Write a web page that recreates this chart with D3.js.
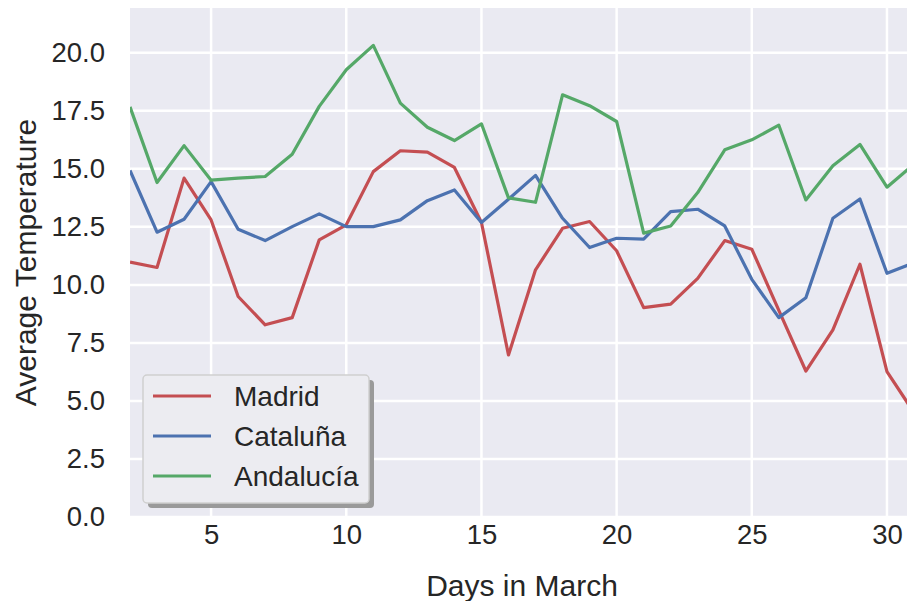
<!DOCTYPE html>
<html>
<head>
<meta charset="utf-8">
<script src="https://cdn.jsdelivr.net/npm/d3@7"></script>
<style>
  body { margin: 0; background: #fff; }
  text { font-family: "Liberation Sans", Arial, sans-serif; fill: #262626; }
</style>
</head>
<body>
<div id="chart"></div>
<script>
var days = d3.range(2, 32);

var madrid = [10.98, 10.75, 14.6, 12.8, 9.5, 8.28, 8.59, 11.94, 12.59, 14.88,
    15.78, 15.72, 15.06, 12.69, 6.98, 10.65, 12.44, 12.73, 11.47, 9.02,
    9.17, 10.28, 11.91, 11.54, 8.9, 6.29, 8.06, 10.89, 6.26, 4.5];
var cataluna = [14.93, 12.27, 12.83, 14.45, 12.4, 11.91, 12.51, 13.06, 12.51, 12.51,
    12.8, 13.63, 14.09, 12.69, 13.69, 14.72, 12.87, 11.61, 12.01, 11.97,
    13.16, 13.26, 12.54, 10.24, 8.59, 9.45, 12.87, 13.7, 10.5, 10.95];
var andalucia = [17.67, 14.41, 16.0, 14.51, 14.6, 14.67, 15.63, 17.69, 19.27, 20.32,
    17.83, 16.79, 16.22, 16.94, 13.75, 13.56, 18.19, 17.72, 17.04, 12.23,
    12.54, 13.98, 15.82, 16.25, 16.88, 13.66, 15.13, 16.05, 14.21, 15.2];

var seriesNames = ["Madrid", "Cataluña", "Andalucía"];
var seriesColors = ["#c44e52", "#4c72b0", "#55a868"];
var xTicks = [5, 10, 15, 20, 25, 30];
var yTicks = [0, 2.5, 5, 7.5, 10, 12.5, 15, 17.5, 20];

var W = 907, H = 601;
var margin = {top: 8, right: -7, bottom: 84, left: 130};
var width = W - margin.left - margin.right,
    height = H - margin.top - margin.bottom;

var svg = d3.select("#chart")
    .append("svg")
    .attr("width", W)
    .attr("height", H);

var g = svg.append("g")
    .attr("transform", "translate(" + margin.left + "," + margin.top + ")");

var x = d3.scaleLinear().domain([2, 31]).range([0, width]);
var y = d3.scaleLinear().domain([0, 21.93]).range([height, 0]);

g.append("rect")
    .attr("width", width)
    .attr("height", height)
    .attr("fill", "#eaeaf2");

// grid
g.selectAll(".vgrid")
    .data(xTicks)
    .enter().append("line")
    .attr("x1", function(d) { return x(d); })
    .attr("x2", function(d) { return x(d); })
    .attr("y1", 0).attr("y2", height)
    .attr("stroke", "#fff").attr("stroke-width", 2.5);

g.selectAll(".hgrid")
    .data(yTicks)
    .enter().append("line")
    .attr("x1", 0).attr("x2", width)
    .attr("y1", function(d) { return y(d); })
    .attr("y2", function(d) { return y(d); })
    .attr("stroke", "#fff").attr("stroke-width", 2.5);

// axes (labels only, no domain/ticks)
var xAxis = g.append("g")
    .attr("transform", "translate(0," + height + ")")
    .call(d3.axisBottom(x).tickValues(xTicks).tickSize(0).tickPadding(27).tickFormat(d3.format("d")));
var yAxis = g.append("g")
    .call(d3.axisLeft(y).tickValues(yTicks).tickSize(0).tickPadding(25).tickFormat(d3.format(".1f")));

[xAxis, yAxis].forEach(function(a) {
    a.select(".domain").remove();
    a.selectAll("text")
        .attr("fill", "#262626")
        .style("font-size", "27.5px")
        .style("font-family", "Liberation Sans, Arial, sans-serif");
});
xAxis.selectAll("text").attr("dy", 0);

// lines
g.append("clipPath").attr("id", "plotclip")
    .append("rect").attr("width", width).attr("height", height);

var line = d3.line()
    .x(function(d, i) { return x(days[i]); })
    .y(function(d) { return y(d); });

var allSeries = [madrid, cataluna, andalucia];

g.selectAll(".series")
    .data(allSeries)
    .enter().append("path")
    .attr("clip-path", "url(#plotclip)")
    .attr("d", line)
    .attr("fill", "none")
    .attr("stroke", function(d, i) { return seriesColors[i]; })
    .attr("stroke-width", 3.2)
    .attr("stroke-linejoin", "round");

// axis titles
svg.append("text")
    .attr("x", margin.left + width / 2)
    .attr("y", 596)
    .attr("text-anchor", "middle")
    .style("font-size", "30px")
    .text("Days in March");

svg.append("text")
    .attr("transform", "translate(36," + (margin.top + height / 2) + ") rotate(-90)")
    .attr("text-anchor", "middle")
    .style("font-size", "30px")
    .text("Average Temperature");

// legend
var lg = svg.append("g").attr("transform", "translate(143,375)");
lg.append("rect")
    .attr("x", 5).attr("y", 5)
    .attr("width", 226).attr("height", 128)
    .attr("rx", 4)
    .attr("fill", "#9a9a9a");
lg.append("rect")
    .attr("width", 226).attr("height", 128)
    .attr("rx", 4)
    .attr("fill", "#ececf1")
    .attr("stroke", "#cfcfcf")
    .attr("stroke-width", 1.5);

var items = lg.selectAll(".legends")
    .data(seriesNames)
    .enter().append("g")
    .attr("transform", function(d, i) { return "translate(0," + (21 + i * 40) + ")"; });

items.append("line")
    .attr("x1", 10).attr("x2", 68)
    .attr("stroke", function(d, i) { return seriesColors[i]; })
    .attr("stroke-width", 3);

items.append("text")
    .attr("x", 91)
    .attr("y", 10)
    .style("font-size", "28px")
    .text(function(d) { return d; });
</script>
</body>
</html>
